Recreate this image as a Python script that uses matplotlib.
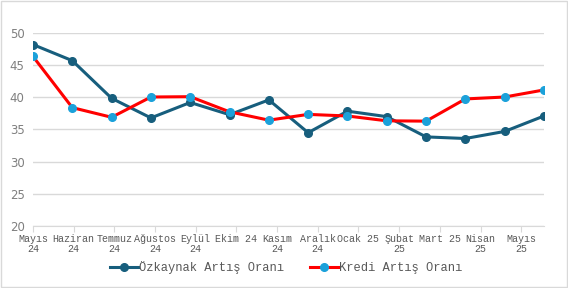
import numpy as np
import matplotlib.pyplot as plt
from matplotlib.patches import Rectangle

# veriler (grafikten okunan yaklasik degerler)
ozkaynak = [48.2, 45.7, 39.85, 36.8, 39.2, 37.3, 39.6, 34.5, 37.85, 37.0, 33.85, 33.6, 34.7, 37.1]
kredi = [46.35, 38.4, 36.9, 40.05, 40.1, 37.75, 36.45, 37.35, 37.1, 36.35, 36.3, 39.75, 40.05, 41.15]
aylar = ['Mayıs\n24', 'Haziran\n24', 'Temmuz\n24', 'Ağustos\n24', 'Eylül\n24', 'Ekim 24',
         'Kasım\n24', 'Aralık\n24', 'Ocak 25', 'Şubat\n25', 'Mart 25', 'Nisan\n25', 'Mayıs\n25']
y_ticks = [20, 25, 30, 35, 40, 45, 50]

mono = 'Liberation Mono'
koyu = '#175E7D'
acik = '#1BA1DA'

fig = plt.figure(figsize=(5.68, 2.88), dpi=100)
ax = fig.add_axes([33 / 568, 1 - 226 / 288, (544 - 33) / 568, (226 - 33) / 288])

x = np.arange(len(ozkaynak))
ax.plot(x, ozkaynak, color=koyu, lw=2.2, marker='o', ms=5.5, mfc=koyu, mec=koyu,
        label='Özkaynak Artış Oranı', zorder=3)
ax.plot(x, kredi, color='#FF0000', lw=2.2, marker='o', ms=5.5, mfc=acik, mec=acik,
        label='Kredi Artış Oranı', zorder=4)

ax.set_xlim(0, len(ozkaynak) - 1)
ax.set_ylim(20, 50)
ax.set_yticks(y_ticks)
ax.yaxis.grid(True, color='#D9D9D9', lw=1)
ax.set_axisbelow(True)
for s in ['top', 'right', 'left']:
    ax.spines[s].set_visible(False)
ax.spines['bottom'].set_color('#D9D9D9')

# etiketler eksende biraz farkli araliklarla duruyor
tick_pos = np.linspace(0, 12.42, len(aylar))
ax.set_xticks(tick_pos)
ax.set_xticklabels(aylar, fontfamily=mono, fontsize=7.2, color='#595959', linespacing=1.0)
ax.tick_params(axis='x', length=4, color='#D9D9D9', pad=2)
ax.tick_params(axis='y', length=0, labelsize=8.5, labelcolor='#7F7F7F', pad=6)

leg = fig.legend(loc='center', bbox_to_anchor=(286 / 568, 1 - 268 / 288), ncol=2, frameon=False,
                 prop={'family': mono, 'size': 8.7}, handlelength=2.3, columnspacing=2.2,
                 handletextpad=0.05)
for t in leg.get_texts():
    t.set_color('#595959')

fig.add_artist(Rectangle((0.002, 0.003), 0.996, 0.994, transform=fig.transFigure,
                         fill=False, ec='#D9D9D9', lw=1))

fig.savefig('out.png', dpi=100)
